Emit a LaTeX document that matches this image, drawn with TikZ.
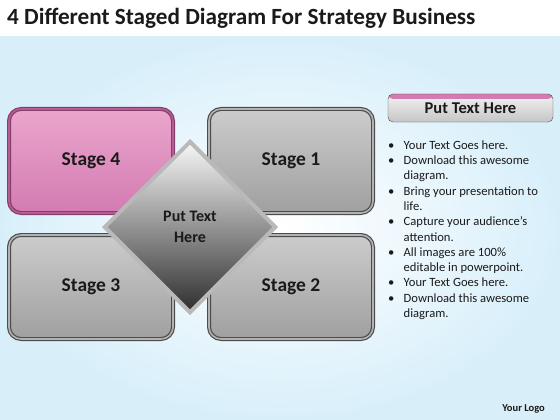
\documentclass[tikz,border=0pt]{standalone}
\usepackage{fontspec}
\setmainfont{Carlito}
\usetikzlibrary{shapes.geometric}

\definecolor{pinkfill}{HTML}{EAA6CC}
\definecolor{pinkdeep}{HTML}{D37BB2}
\definecolor{pinkrim}{HTML}{B85A96}
\definecolor{skyblue}{HTML}{D8EFFA}
\definecolor{inktext}{HTML}{1A1A1A}

\tikzset{
	stagebox/.style={rounded corners=12pt, minimum width=164pt, minimum height=104pt,
		line width=1.2pt, double distance=1.6pt, text=inktext,
		font=\fontsize{19.5}{22}\selectfont\bfseries},
	graybox/.style={stagebox, draw=black!70, double=gray!60,
		top color=gray!40, bottom color=gray!75},
	pinkbox/.style={stagebox, draw=pinkrim!70!black, double=pinkrim,
		top color=pinkfill, bottom color=pinkdeep},
	centrebox/.style={diamond, minimum width=172pt, minimum height=172pt, inner sep=0pt,
		draw=gray!55, line width=4pt, top color=gray!6, bottom color=black!82,
		align=center, text=inktext, font=\fontsize{16}{21}\selectfont\bfseries},
	headbox/.style={rounded corners=5pt, minimum width=165pt, minimum height=28pt,
		draw=gray!60!black, top color=gray!10, bottom color=gray!45, text=inktext,
		font=\fontsize{16.5}{20}\selectfont\bfseries,
		path picture={\fill[pinkdeep] (path picture bounding box.north west)
			rectangle ([yshift=-5pt]path picture bounding box.north east);}},
}

\begin{document}
\begin{tikzpicture}[x=1pt, y=-1pt]
	\useasboundingbox (0,0) rectangle (560,420);
	\fill[white] (0,0) rectangle (560,37);
	\shade[inner color=white, outer color=skyblue] (0,37) rectangle (560,420);

	\node[anchor=base west, inner sep=0pt, text=inktext, font=\fontsize{23.2}{27}\selectfont\bfseries]
		(title) at (7,25) {4 Different Staged Diagram For Strategy Business};

	\node[pinkbox] (stage4) at (91,161) {Stage 4};
	\foreach \i / \x / \y in {1/291/161, 2/291/287, 3/91/287}
	{
		\node[graybox] (stage\i) at (\x,\y) {Stage \i};
	};

	\node[centrebox] (centre) at (190,227) {Put Text\\Here};

	\node[headbox] (head) at (470.5,108) {\raisebox{-2pt}{Put Text Here}};

	\node[anchor=north west, inner sep=0pt, text=inktext, font=\fontsize{12.6}{15.3}\selectfont]
		(notes) at (388,138.3) {%
		\begin{tabular}{@{}p{15.5pt}@{}l@{}}
			\textbullet & Your Text Goes here.\\
			\textbullet & Download this awesome\\
			            & diagram.\\
			\textbullet & Bring your presentation to\\
			            & life.\\
			\textbullet & Capture your audience’s\\
			            & attention.\\
			\textbullet & All images are 100\%\\
			            & editable in powerpoint.\\
			\textbullet & Your Text Goes here.\\
			\textbullet & Download this awesome\\
			            & diagram.
		\end{tabular}};

	\node[anchor=base east, inner sep=0pt, text=inktext, font=\fontsize{10.5}{12}\selectfont\bfseries]
		(logo) at (545,411) {Your Logo};
\end{tikzpicture}
\end{document}
